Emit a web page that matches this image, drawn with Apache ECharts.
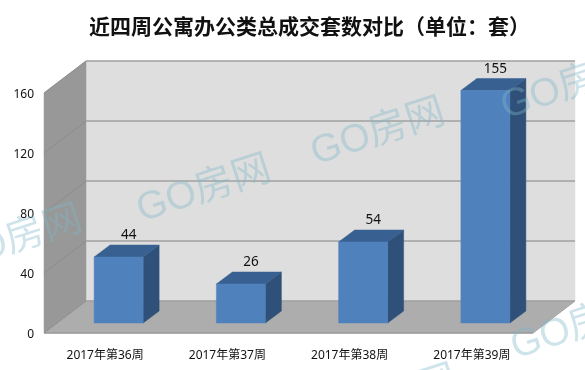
<!DOCTYPE html>
<html><head><meta charset="utf-8">
<style>html,body{margin:0;padding:0;background:#fff}#c{width:585px;height:370px}</style>
<script src="https://cdn.jsdelivr.net/npm/echarts@6/dist/echarts.min.js"></script>
</head><body><div id="c"></div>
<script>
const titleText = '近四周公寓办公类总成交套数对比（单位：套）';
const categories = ['2017年第36周','2017年第37周','2017年第38周','2017年第39周'];
const values = [44, 26, 54, 155];
const ticks = [0, 40, 80, 120, 160];
const watermarkText = 'GO房网';

const DX = 42, DY = -32;          // wall depth
const BX = 13.5, BY = -10;        // bar plane offset inside the floor
const BDX = 16, BDY = -12;        // bar depth
const BARW = 49;
const font = '"Noto Sans","Noto Sans CJK SC",sans-serif';

function poly(points, fill) {
  return { type: 'polygon', shape: { points }, style: { fill, stroke: fill, lineWidth: 0.5 } };
}
function line(x1, y1, x2, y2, stroke, lineWidth) {
  return { type: 'line', shape: { x1, y1, x2, y2 }, style: { stroke, lineWidth } };
}
function renderScene(params, api) {
  const cs = params.coordSys;
  const L = cs.x, R = cs.x + cs.width, B = api.coord([0, 0])[1], T = api.coord([0, 160])[1];
  const ch = [
    poly([[L + DX, T + DY], [R + DX, T + DY], [R + DX, B + DY], [L + DX, B + DY]], '#DEDEDE'),
    poly([[L, T], [L + DX, T + DY], [L + DX, B + DY], [L, B]], '#989898'),
    poly([[L, B], [L + DX, B + DY], [R + DX, B + DY], [R, B]], '#ADADAD')
  ];
  ticks.forEach(function (v) {
    const y = api.coord([0, v])[1];
    ch.push(line(L + DX, y + DY, R + DX, y + DY, '#A0A0A0', 1.5));
    ch.push(line(L, y, L + DX, y + DY, '#8C8C8C', 1));
  });
  ch.push(line(R, B, R + DX, B + DY, '#A8A8A8', 1));
  ch.push(line(L, B, R, B, '#9A9A9A', 1.5));
  return { type: 'group', children: ch };
}
function renderBar(params, api) {
  const idx = api.value(0), v = api.value(1);
  const c = api.coord([idx, v]), o = api.coord([idx, 0]);
  const x0 = c[0] + BX - BARW / 2, x1 = x0 + BARW, yt = c[1] + BY, yb = o[1] + BY;
  return {
    type: 'group',
    children: [
      poly([[x1, yt], [x1 + BDX, yt + BDY], [x1 + BDX, yb + BDY], [x1, yb]], '#2F5078'),
      poly([[x0, yt], [x0 + BDX, yt + BDY], [x1 + BDX, yt + BDY], [x1, yt]], '#386090'),
      poly([[x0, yt], [x1, yt], [x1, yb], [x0, yb]], '#4F81BD'),
      { type: 'text', style: {
          text: String(v), x: x1 - BARW / 2 + 10, y: yt + BDY - 9.5,
          fill: '#111', font: '13.5px ' + font, textAlign: 'center', textVerticalAlign: 'middle' } }
    ]
  };
}
const marks = [[15, 240], [204, 190], [378, 133], [568, 87], [578, 327], [390, 400]];
const chart = echarts.init(document.getElementById('c'));
chart.setOption({
  animation: false,
  backgroundColor: '#fff',
  title: { text: titleText, left: 89, top: 16, padding: 0,
    textStyle: { fontFamily: '"Noto Sans CJK SC"', fontWeight: 'bold', fontSize: 21, color: '#111' } },
  grid: { left: 44, right: 52, top: 93, bottom: 37 },
  xAxis: { type: 'category', data: categories,
    axisLine: { show: false }, axisTick: { show: false },
    axisLabel: { margin: 17, fontSize: 12, color: '#111', fontFamily: font, interval: 0 } },
  yAxis: { type: 'value', min: 0, max: 160, interval: 40,
    axisLine: { show: false }, axisTick: { show: false }, splitLine: { show: false },
    axisLabel: { margin: 10, fontSize: 12, color: '#111', fontFamily: font, verticalAlign: 'top', lineHeight: 4 } },
  series: [
    { type: 'custom', coordinateSystem: 'cartesian2d', renderItem: renderScene, data: [[0, 0]], silent: true, z: 1, clip: false },
    { type: 'custom', coordinateSystem: 'cartesian2d', renderItem: renderBar,
      data: values.map(function (v, i) { return [i, v]; }), z: 2, clip: false }
  ],
  graphic: marks.map(function (m) {
    return { type: 'text', x: m[0], y: m[1], rotation: 18 * Math.PI / 180, z: 10, silent: true,
      style: { text: watermarkText, fill: 'rgba(125,185,200,0.38)', textAlign: 'center', textVerticalAlign: 'middle',
        font: '39px "Liberation Sans","Noto Sans CJK SC",sans-serif' } };
  })
});
</script></body></html>
